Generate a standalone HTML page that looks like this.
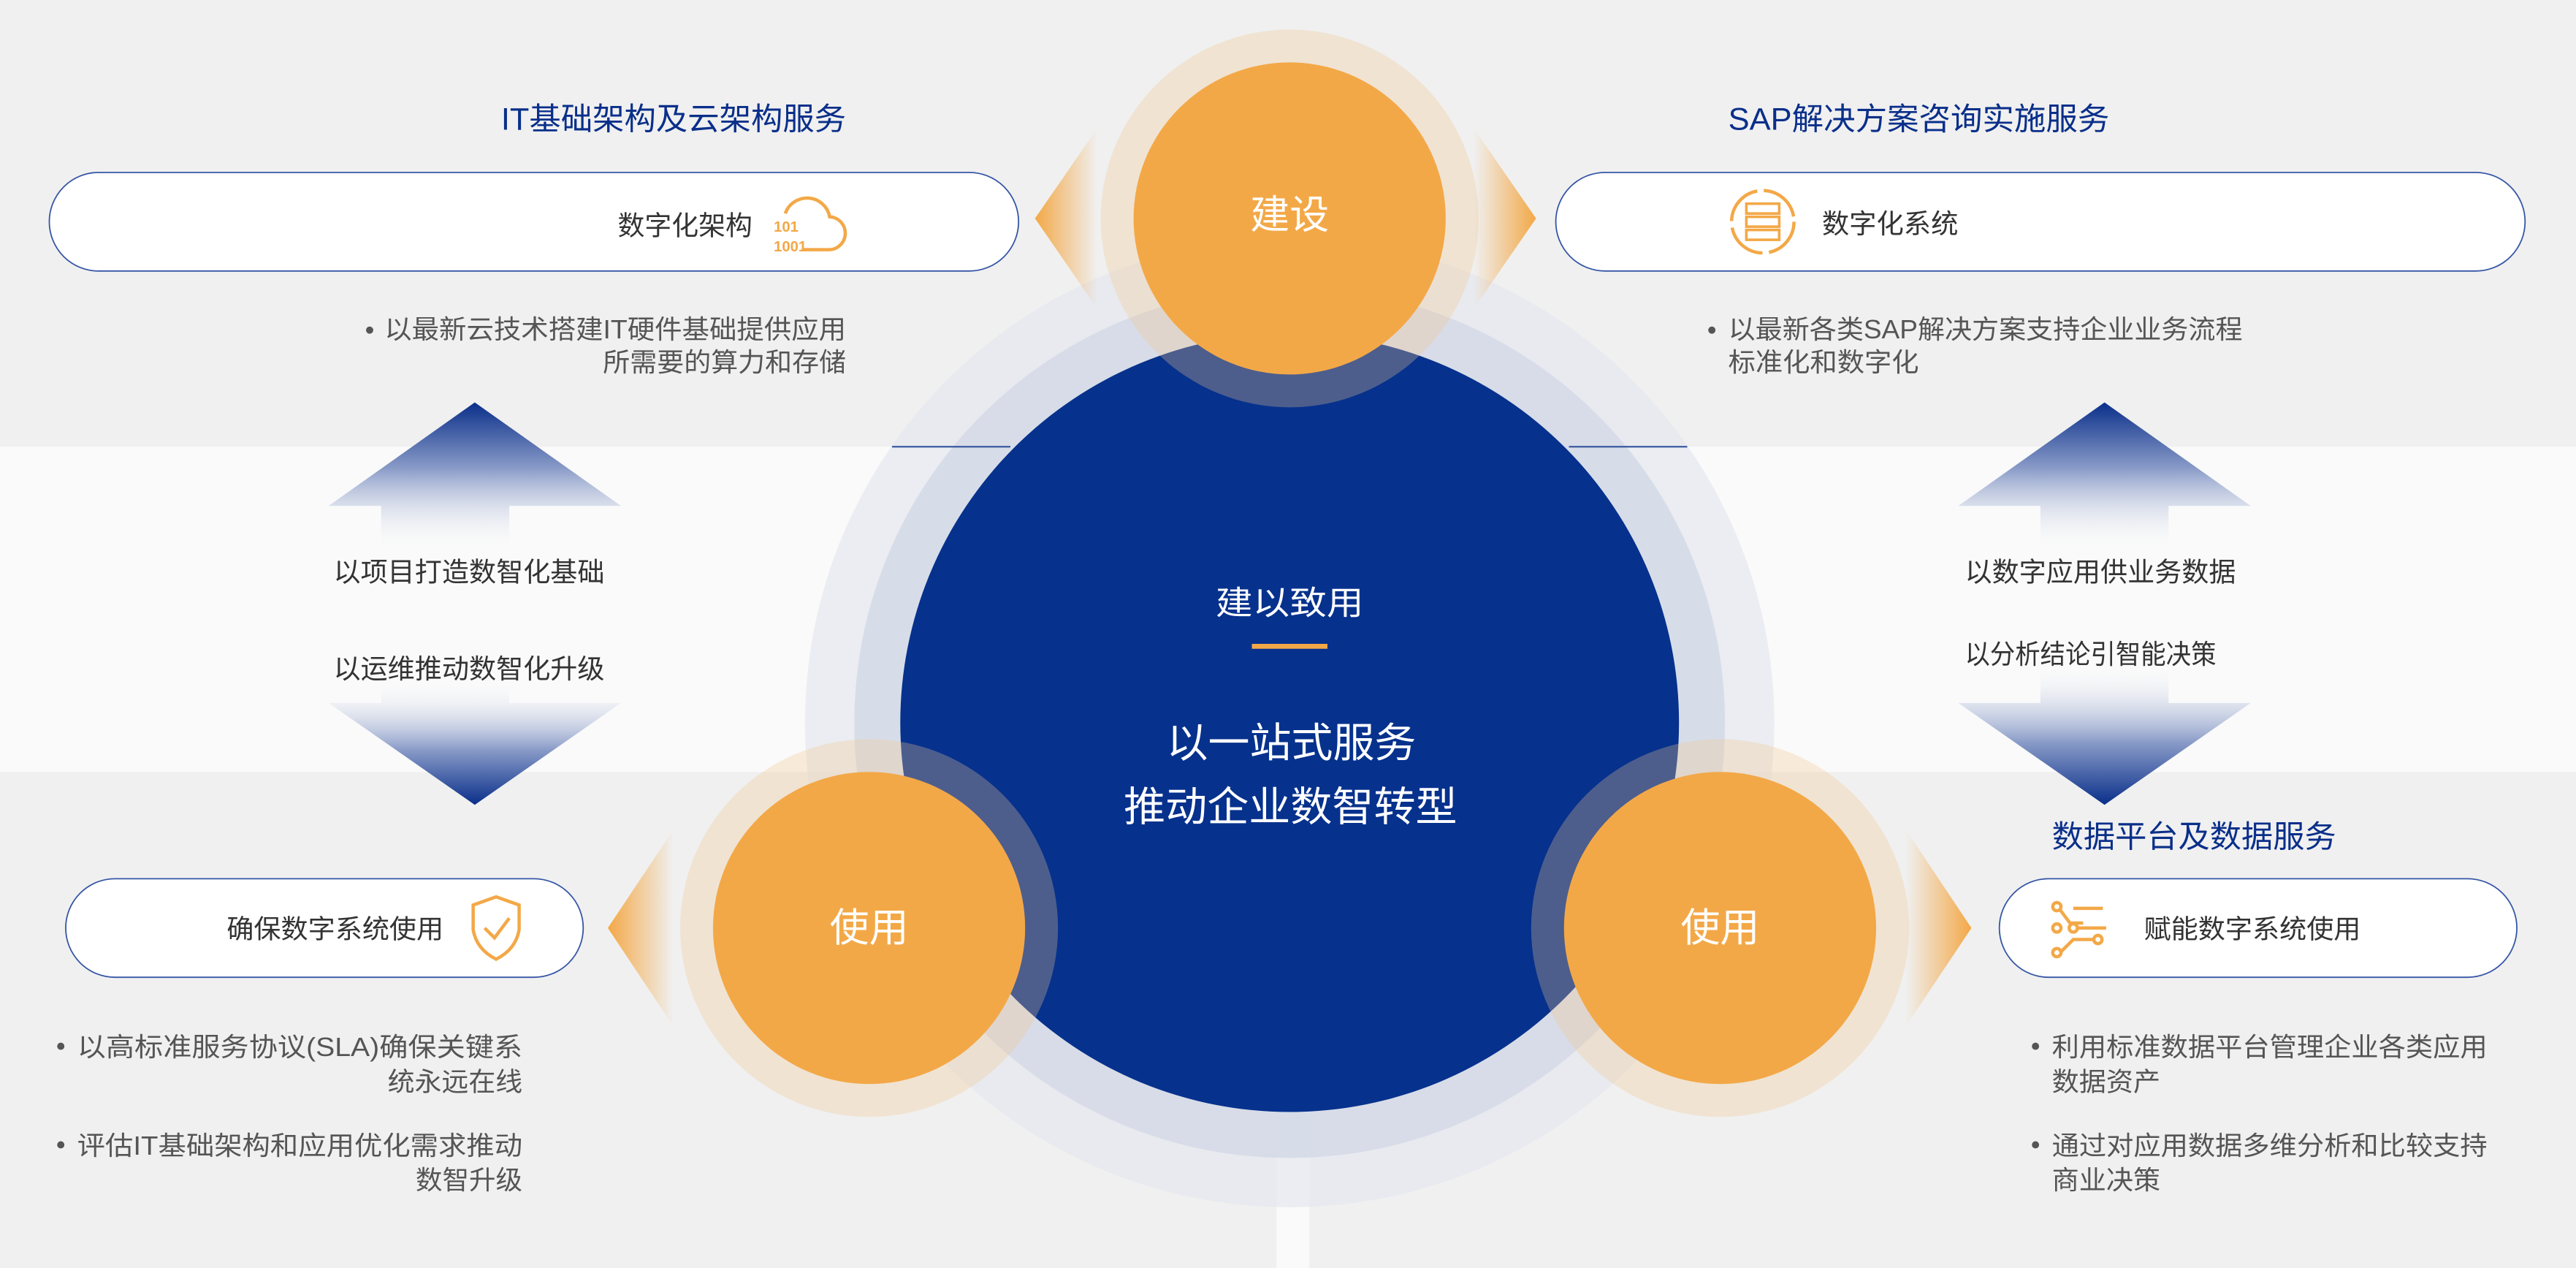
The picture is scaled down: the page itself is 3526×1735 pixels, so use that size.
<!DOCTYPE html>
<html><head><meta charset="utf-8"><style>
html,body{margin:0;padding:0;background:#f0f0f0;}
svg{display:block;}
text{font-family:"Liberation Sans","Noto Sans CJK SC",sans-serif;}
</style></head><body>
<svg width="3526" height="1735" viewBox="0 0 1568 772" preserveAspectRatio="none" xmlns="http://www.w3.org/2000/svg">
<defs>
<linearGradient id="up" x1="0" y1="0" x2="0" y2="1">
<stop offset="0" stop-color="#0a2f8a"/><stop offset="0.45" stop-color="#8a9cc8"/><stop offset="1" stop-color="#fafafa" stop-opacity="0"/>
</linearGradient>
<linearGradient id="down" x1="0" y1="0" x2="0" y2="1">
<stop offset="0" stop-color="#fafafa" stop-opacity="0"/><stop offset="0.55" stop-color="#8a9cc8"/><stop offset="1" stop-color="#0a2f8a"/>
</linearGradient>
<linearGradient id="oL" x1="0" y1="0" x2="1" y2="0">
<stop offset="0" stop-color="#f3a847"/><stop offset="1" stop-color="#f3a847" stop-opacity="0"/>
</linearGradient>
<linearGradient id="oR" x1="1" y1="0" x2="0" y2="0">
<stop offset="0" stop-color="#f3a847"/><stop offset="1" stop-color="#f3a847" stop-opacity="0"/>
</linearGradient>
</defs>
<rect width="1568" height="772" fill="#f0f0f0"/>
<rect y="272" width="1568" height="198" fill="#fafafa"/>
<rect x="777" y="660" width="20" height="112" fill="#fafafa"/>

<circle cx="785" cy="440" r="295" fill="#e6e8ef" opacity="0.75"/>
<circle cx="785" cy="440" r="265" fill="#d3d9e6" opacity="0.85"/>
<circle cx="785" cy="440" r="237" fill="#06318d"/>
<line x1="543" y1="272" x2="615" y2="272" stroke="#3a5aa0" stroke-width="1"/>
<line x1="955" y1="272" x2="1027" y2="272" stroke="#3a5aa0" stroke-width="1"/>

<polygon points="630,133 668,78 668,188" fill="url(#oL)"/>
<polygon points="935,133 897,78 897,188" fill="url(#oR)"/>
<polygon points="370,565 410,505 410,625" fill="url(#oL)"/>
<polygon points="1200,565 1160,505 1160,625" fill="url(#oR)"/>

<circle cx="785" cy="133" r="115" fill="#f3c890" opacity="0.3"/>
<circle cx="785" cy="133" r="95" fill="#f3a847"/>
<circle cx="529" cy="565" r="115" fill="#f3c890" opacity="0.3"/>
<circle cx="529" cy="565" r="95" fill="#f3a847"/>
<circle cx="1047" cy="565" r="115" fill="#f3c890" opacity="0.3"/>
<circle cx="1047" cy="565" r="95" fill="#f3a847"/>
<text x="785" y="139" font-size="24" fill="#fff" text-anchor="middle">建设</text>
<text x="529" y="573" font-size="24" fill="#fff" text-anchor="middle">使用</text>
<text x="1047" y="573" font-size="24" fill="#fff" text-anchor="middle">使用</text>

<text x="740" y="374" font-size="20" fill="#fff" textLength="90" lengthAdjust="spacingAndGlyphs">建以致用</text>
<rect x="762" y="392" width="46" height="3" fill="#f3a847"/>
<text x="710" y="461" font-size="25" fill="#fff" textLength="152" lengthAdjust="spacingAndGlyphs">以一站式服务</text>
<text x="684" y="500" font-size="25" fill="#fff" textLength="203" lengthAdjust="spacingAndGlyphs">推动企业数智转型</text>

<text x="305" y="79" font-size="19" fill="#0a2f8a" textLength="210" lengthAdjust="spacingAndGlyphs">IT基础架构及云架构服务</text>
<text x="1052" y="79" font-size="19" fill="#0a2f8a" textLength="232" lengthAdjust="spacingAndGlyphs">SAP解决方案咨询实施服务</text>
<text x="1249" y="516" font-size="19" fill="#0a2f8a" textLength="173" lengthAdjust="spacingAndGlyphs">数据平台及数据服务</text>

<rect x="30" y="105" width="590" height="60" rx="30" fill="#fff" stroke="#3656a6" stroke-width="0.8"/>
<text x="376" y="143" font-size="16.5" fill="#333" textLength="82" lengthAdjust="spacingAndGlyphs">数字化架构</text>
<path d="M488,152 L504,152 A10,10 0 0 0 505,132 A14,14 0 0 0 478,130" fill="none" stroke="#f3a847" stroke-width="2"/>
<text x="471" y="141" font-size="9" fill="#f3a847" font-weight="bold">101</text>
<text x="471" y="153" font-size="9" fill="#f3a847" font-weight="bold">1001</text>

<rect x="947" y="105" width="590" height="60" rx="30" fill="#fff" stroke="#3656a6" stroke-width="0.8"/>
<circle cx="1073" cy="135" r="19" fill="none" stroke="#f3a847" stroke-width="2" stroke-dasharray="26 4"/>
<rect x="1063" y="124" width="20" height="6" fill="none" stroke="#f3a847" stroke-width="1.6"/>
<rect x="1063" y="132" width="20" height="6" fill="none" stroke="#f3a847" stroke-width="1.6"/>
<rect x="1063" y="140" width="20" height="6" fill="none" stroke="#f3a847" stroke-width="1.6"/>
<text x="1109" y="142" font-size="16.5" fill="#333" textLength="83" lengthAdjust="spacingAndGlyphs">数字化系统</text>

<rect x="40" y="535" width="315" height="60" rx="30" fill="#fff" stroke="#3656a6" stroke-width="0.8"/>
<text x="138" y="571" font-size="16" fill="#333" textLength="132" lengthAdjust="spacingAndGlyphs">确保数字系统使用</text>
<path d="M302,546 L316,551 L316,566 Q314,578 302,584 Q290,578 288,566 L288,551 Z" fill="none" stroke="#f3a847" stroke-width="2"/>
<path d="M295,565 L301,571 L310,559" fill="none" stroke="#f3a847" stroke-width="2"/>

<rect x="1217" y="535" width="315" height="60" rx="30" fill="#fff" stroke="#3656a6" stroke-width="0.8"/>
<g stroke="#f3a847" stroke-width="2" fill="none">
<circle cx="1252" cy="552" r="2.5"/><path d="M1254,554 L1260,562 L1268,562"/><path d="M1262,553 L1280,553"/>
<circle cx="1252" cy="565" r="2.5"/><circle cx="1262" cy="565" r="2.5"/><path d="M1264,565 L1282,565"/>
<circle cx="1277" cy="572" r="2.5"/><path d="M1275,572 L1262,572 L1254,580"/><circle cx="1252" cy="580" r="2.5"/>
</g>
<text x="1305" y="571" font-size="16" fill="#333" textLength="132" lengthAdjust="spacingAndGlyphs">赋能数字系统使用</text>

<g font-size="16" fill="#555">
<circle cx="225" cy="201" r="2.2" fill="#555"/>
<text x="234" y="206" textLength="281" lengthAdjust="spacingAndGlyphs">以最新云技术搭建IT硬件基础提供应用</text>
<text x="367" y="226" textLength="148" lengthAdjust="spacingAndGlyphs">所需要的算力和存储</text>
<circle cx="1042" cy="201" r="2.2" fill="#555"/>
<text x="1052" y="206" textLength="313" lengthAdjust="spacingAndGlyphs">以最新各类SAP解决方案支持企业业务流程</text>
<text x="1052" y="226" textLength="116" lengthAdjust="spacingAndGlyphs">标准化和数字化</text>
<circle cx="37" cy="637" r="2.2" fill="#555"/>
<text x="47" y="643" textLength="271" lengthAdjust="spacingAndGlyphs">以高标准服务协议(SLA)确保关键系</text>
<text x="236" y="664" textLength="82" lengthAdjust="spacingAndGlyphs">统永远在线</text>
<circle cx="37" cy="697" r="2.2" fill="#555"/>
<text x="47" y="703" textLength="271" lengthAdjust="spacingAndGlyphs">评估IT基础架构和应用优化需求推动</text>
<text x="253" y="724" textLength="65" lengthAdjust="spacingAndGlyphs">数智升级</text>
<circle cx="1239" cy="637" r="2.2" fill="#555"/>
<text x="1249" y="643" textLength="265" lengthAdjust="spacingAndGlyphs">利用标准数据平台管理企业各类应用</text>
<text x="1249" y="664" textLength="66" lengthAdjust="spacingAndGlyphs">数据资产</text>
<circle cx="1239" cy="697" r="2.2" fill="#555"/>
<text x="1249" y="703" textLength="265" lengthAdjust="spacingAndGlyphs">通过对应用数据多维分析和比较支持</text>
<text x="1249" y="724" textLength="66" lengthAdjust="spacingAndGlyphs">商业决策</text>
</g>

<polygon points="289,245 378,308 310,308 310,335 232,335 232,308 200,308" fill="url(#up)"/>
<polygon points="232,415 310,415 310,428 378,428 289,490 200,428 232,428" fill="url(#down)"/>
<text x="203" y="354" font-size="16.5" fill="#333" textLength="165" lengthAdjust="spacingAndGlyphs">以项目打造数智化基础</text>
<text x="203" y="413" font-size="16.5" fill="#333" textLength="165" lengthAdjust="spacingAndGlyphs">以运维推动数智化升级</text>
<polygon points="1281,245 1370,308 1320,308 1320,335 1242,335 1242,308 1192,308" fill="url(#up)"/>
<polygon points="1242,405 1320,405 1320,428 1370,428 1281,490 1192,428 1242,428" fill="url(#down)"/>
<text x="1196" y="354" font-size="16.5" fill="#333" textLength="165" lengthAdjust="spacingAndGlyphs">以数字应用供业务数据</text>
<text x="1196" y="404" font-size="16.5" fill="#333" textLength="153" lengthAdjust="spacingAndGlyphs">以分析结论引智能决策</text>
</svg>
</body></html>
